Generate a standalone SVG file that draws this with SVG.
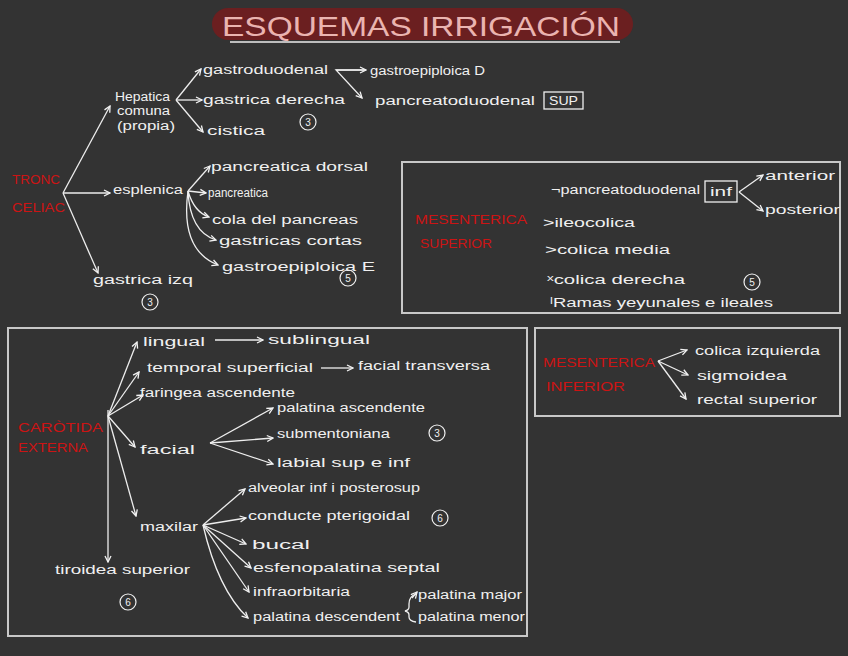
<svg xmlns="http://www.w3.org/2000/svg" width="848" height="656" viewBox="0 0 848 656">
<defs>
<marker id="ah" viewBox="0 0 8 8" refX="7" refY="4" markerWidth="8" markerHeight="8" markerUnits="userSpaceOnUse" orient="auto">
<path d="M1,1 L7,4 L1,7" fill="none" stroke="#f2f2f2" stroke-width="1.3"/>
</marker>
</defs>
<style>
.t{font-family:"Liberation Sans",Arial,sans-serif;font-size:12px;fill:#f0f0f0;}
.r{font-family:"Liberation Sans",Arial,sans-serif;font-size:13px;fill:#cc1414;}
.l{fill:none;stroke:#eeeeee;stroke-width:1.3;}
.a{marker-end:url(#ah);}
.box{fill:none;stroke:#c8c8c8;stroke-width:2;}
.c{fill:none;stroke:#f0f0f0;stroke-width:1.2;}
.n{font-family:"Liberation Sans",Arial,sans-serif;font-size:10px;fill:#f0f0f0;text-anchor:middle;}
</style>
<rect width="848" height="656" fill="#333333"/>

<g id="title">
<rect x="212" y="8" width="421" height="32" rx="16" fill="#6b1f20"/>
<text x="222" y="36" font-family="Liberation Sans,Arial,sans-serif" font-size="28" fill="#eab4b0" textLength="398" lengthAdjust="spacingAndGlyphs">ESQUEMAS  IRRIGACIÓN</text>
<line x1="230" y1="42" x2="620" y2="42" stroke="#bdbdbd" stroke-width="2"/>
</g>

<g id="boxes">
<rect id="box-ms" class="box" x="402" y="162" width="438" height="151"/>
<rect id="box-mi" class="box" x="535" y="328" width="305" height="88"/>
<rect id="box-ce" class="box" x="8" y="328" width="519" height="308"/>
</g>

<g id="connectors">
<line class="l a" x1="63" y1="193" x2="110" y2="106"/>
<line class="l a" x1="63" y1="193" x2="110" y2="193"/>
<line class="l a" x1="63" y1="193" x2="98" y2="273"/>
<line class="l a" x1="176" y1="100" x2="201" y2="69"/>
<line class="l a" x1="176" y1="100" x2="202" y2="100"/>
<line class="l a" x1="176" y1="100" x2="203" y2="132"/>
<polyline class="l a" points="365,70 336,70 362,98"/>
<line class="l a" x1="336" y1="70" x2="366" y2="70"/>
<line class="l a" x1="188" y1="191" x2="210" y2="166"/>
<line class="l a" x1="188" y1="191" x2="206" y2="193"/>
<path class="l a" d="M188,191 Q194,212 209,217"/>
<path class="l a" d="M188,191 Q190,232 216,240"/>
<path class="l a" d="M188,191 Q180,250 218,265"/>
<line class="l a" x1="739" y1="192" x2="763" y2="175"/>
<line class="l a" x1="739" y1="192" x2="763" y2="211"/>
<line class="l a" x1="658" y1="361" x2="687" y2="350"/>
<line class="l a" x1="658" y1="361" x2="688" y2="375"/>
<line class="l a" x1="658" y1="361" x2="686" y2="399"/>
<line class="l a" x1="108" y1="416" x2="137" y2="342"/>
<line class="l a" x1="108" y1="416" x2="139" y2="372"/>
<line class="l a" x1="108" y1="416" x2="143" y2="395"/>
<line class="l a" x1="108" y1="416" x2="135" y2="447"/>
<line class="l a" x1="108" y1="416" x2="136" y2="516"/>
<line class="l a" x1="108" y1="410" x2="108" y2="562"/>
<line class="l a" x1="215" y1="340" x2="263" y2="340"/>
<line class="l a" x1="321" y1="368" x2="353" y2="368"/>
<line class="l a" x1="210" y1="443" x2="273" y2="408"/>
<line class="l a" x1="210" y1="443" x2="273" y2="438"/>
<line class="l a" x1="210" y1="443" x2="273" y2="464"/>
<line class="l a" x1="203" y1="525" x2="245" y2="489"/>
<line class="l a" x1="203" y1="525" x2="246" y2="518"/>
<line class="l a" x1="203" y1="525" x2="246" y2="544"/>
<line class="l a" x1="203" y1="525" x2="251" y2="568"/>
<line class="l a" x1="203" y1="525" x2="249" y2="592"/>
<path class="l a" d="M203,525 Q218,590 248,618"/>
<path class="l" d="M416,594 Q409,596 409,604 L409,607 Q409,610 405,611 Q409,612 409,615 L409,617 Q409,621 416,622"/>
<line class="l a" x1="412" y1="598" x2="417" y2="592"/>
</g>

<g id="tronco-celiaco">
<text class="r" x="12" y="184" textLength="48" lengthAdjust="spacingAndGlyphs">TRONC</text>
<text class="r" x="12" y="212" textLength="53" lengthAdjust="spacingAndGlyphs">CELIAC</text>
</g>

<g id="hepatica">
<text class="t" x="115" y="101" textLength="55" lengthAdjust="spacingAndGlyphs">Hepatica</text>
<text class="t" x="117" y="115" textLength="53" lengthAdjust="spacingAndGlyphs">comuna</text>
<text class="t" x="117" y="130" textLength="58" lengthAdjust="spacingAndGlyphs">(propia)</text>
<text class="t" x="203" y="74" textLength="125" lengthAdjust="spacingAndGlyphs">gastroduodenal</text>
<text class="t" x="203" y="104" textLength="142" lengthAdjust="spacingAndGlyphs">gastrica  derecha</text>
<text class="t" x="207" y="135" textLength="58" lengthAdjust="spacingAndGlyphs">cistica</text>
<circle class="c" cx="308" cy="122" r="8"/><text class="n" x="308" y="126">3</text>
<text class="t" x="370" y="75" textLength="115" lengthAdjust="spacingAndGlyphs">gastroepiploica D</text>
<text class="t" x="375" y="105" textLength="160" lengthAdjust="spacingAndGlyphs">pancreatoduodenal</text>
<rect x="544" y="92" width="39" height="17" fill="none" stroke="#f0f0f0" stroke-width="1.3"/>
<text class="t" x="549" y="105" font-size="11" textLength="29" lengthAdjust="spacingAndGlyphs">SUP</text>
</g>

<g id="esplenica">
<text class="t" x="113" y="194" textLength="70" lengthAdjust="spacingAndGlyphs">esplenica</text>
<text class="t" x="211" y="171" textLength="157" lengthAdjust="spacingAndGlyphs">pancreatica  dorsal</text>
<text class="t" x="208" y="197" textLength="60" lengthAdjust="spacingAndGlyphs">pancreatica</text>
<text class="t" x="212" y="224" textLength="146" lengthAdjust="spacingAndGlyphs">cola  del  pancreas</text>
<text class="t" x="219" y="245" textLength="143" lengthAdjust="spacingAndGlyphs">gastricas  cortas</text>
<text class="t" x="222" y="271" textLength="153" lengthAdjust="spacingAndGlyphs">gastroepiploica E</text>
<circle class="c" cx="348" cy="278" r="8"/><text class="n" x="348" y="282">5</text>
</g>

<g id="gastrica-izq">
<text class="t" x="93" y="284" textLength="100" lengthAdjust="spacingAndGlyphs">gastrica  izq</text>
<circle class="c" cx="150" cy="302" r="8"/><text class="n" x="150" y="306">3</text>
</g>

<g id="mesenterica-superior">
<text class="r" x="415" y="224" textLength="112" lengthAdjust="spacingAndGlyphs">MESENTERICA</text>
<text class="r" x="420" y="248" textLength="72" lengthAdjust="spacingAndGlyphs">SUPERIOR</text>
<text class="t" x="551" y="194" textLength="149" lengthAdjust="spacingAndGlyphs">¬pancreatoduodenal</text>
<rect x="705" y="181" width="32" height="21" fill="none" stroke="#f0f0f0" stroke-width="1.3"/>
<text class="t" x="710" y="196" textLength="22" lengthAdjust="spacingAndGlyphs">inf</text>
<text class="t" x="765" y="180" textLength="70" lengthAdjust="spacingAndGlyphs">anterior</text>
<text class="t" x="765" y="214" textLength="75" lengthAdjust="spacingAndGlyphs">posterior</text>
<text class="t" x="543" y="227" textLength="92" lengthAdjust="spacingAndGlyphs">&gt;ileocolica</text>
<text class="t" x="545" y="254" textLength="125" lengthAdjust="spacingAndGlyphs">&gt;colica  media</text>
<text class="t" x="547" y="284" textLength="138" lengthAdjust="spacingAndGlyphs">ˣcolica  derecha</text>
<text class="t" x="550" y="307" textLength="223" lengthAdjust="spacingAndGlyphs">ˡRamas  yeyunales  e  ileales</text>
<circle class="c" cx="752" cy="282" r="8"/><text class="n" x="752" y="286">5</text>
</g>

<g id="mesenterica-inferior">
<text class="r" x="543" y="367" textLength="112" lengthAdjust="spacingAndGlyphs">MESENTERICA</text>
<text class="r" x="546" y="391" textLength="79" lengthAdjust="spacingAndGlyphs">INFERIOR</text>
<text class="t" x="695" y="355" textLength="125" lengthAdjust="spacingAndGlyphs">colica  izquierda</text>
<text class="t" x="697" y="380" textLength="90" lengthAdjust="spacingAndGlyphs">sigmoidea</text>
<text class="t" x="697" y="404" textLength="120" lengthAdjust="spacingAndGlyphs">rectal  superior</text>
</g>

<g id="carotida-externa">
<text class="r" x="18" y="432" textLength="85" lengthAdjust="spacingAndGlyphs">CARÒTIDA</text>
<text class="r" x="18" y="452" textLength="70" lengthAdjust="spacingAndGlyphs">EXTERNA</text>
<text class="t" x="143" y="346" textLength="62" lengthAdjust="spacingAndGlyphs">lingual</text>
<text class="t" x="268" y="344" textLength="102" lengthAdjust="spacingAndGlyphs">sublingual</text>
<text class="t" x="147" y="372" textLength="166" lengthAdjust="spacingAndGlyphs">temporal  superficial</text>
<text class="t" x="358" y="370" textLength="132" lengthAdjust="spacingAndGlyphs">facial  transversa</text>
<text class="t" x="140" y="397" textLength="155" lengthAdjust="spacingAndGlyphs">faringea  ascendente</text>
<text class="t" x="140" y="454" textLength="55" lengthAdjust="spacingAndGlyphs">facial</text>
<text class="t" x="140" y="531" textLength="58" lengthAdjust="spacingAndGlyphs">maxilar</text>
<text class="t" x="55" y="574" textLength="135" lengthAdjust="spacingAndGlyphs">tiroidea  superior</text>
<circle class="c" cx="128" cy="602" r="8"/><text class="n" x="128" y="606">6</text>
</g>

<g id="facial">
<text class="t" x="277" y="412" textLength="148" lengthAdjust="spacingAndGlyphs">palatina  ascendente</text>
<text class="t" x="277" y="438" textLength="113" lengthAdjust="spacingAndGlyphs">submentoniana</text>
<text class="t" x="277" y="467" textLength="133" lengthAdjust="spacingAndGlyphs">labial  sup  e  inf</text>
<circle class="c" cx="437" cy="433" r="8"/><text class="n" x="437" y="437">3</text>
</g>

<g id="maxilar">
<text class="t" x="248" y="492" textLength="172" lengthAdjust="spacingAndGlyphs">alveolar inf i posterosup</text>
<text class="t" x="248" y="520" textLength="162" lengthAdjust="spacingAndGlyphs">conducte  pterigoidal</text>
<text class="t" x="252" y="549" textLength="58" lengthAdjust="spacingAndGlyphs">bucal</text>
<text class="t" x="253" y="572" textLength="187" lengthAdjust="spacingAndGlyphs">esfenopalatina  septal</text>
<text class="t" x="253" y="596" textLength="97" lengthAdjust="spacingAndGlyphs">infraorbitaria</text>
<text class="t" x="253" y="621" textLength="147" lengthAdjust="spacingAndGlyphs">palatina  descendent</text>
<text class="t" x="418" y="599" textLength="104" lengthAdjust="spacingAndGlyphs">palatina  major</text>
<text class="t" x="418" y="621" textLength="107" lengthAdjust="spacingAndGlyphs">palatina  menor</text>
<circle class="c" cx="440" cy="518" r="8"/><text class="n" x="440" y="522">6</text>
</g>
</svg>
